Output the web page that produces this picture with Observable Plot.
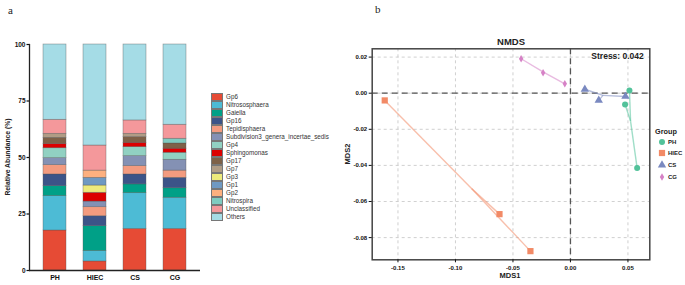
<!DOCTYPE html>
<html><head><meta charset="utf-8">
<script src="https://cdn.jsdelivr.net/npm/d3@7"></script>
<script src="https://cdn.jsdelivr.net/npm/@observablehq/plot@0.6"></script>
<style>
body{margin:0;background:#fff;font-family:"Liberation Sans",Arial,sans-serif;}
#wrap{position:relative;width:685px;height:285px;overflow:hidden;background:#fff;}
.abs{position:absolute;white-space:nowrap;}
</style></head><body><div id="wrap"></div>
<script>
// ---------- data: panel a ----------
const samples = ["PH", "HIEC", "CS", "CG"];
const genera = ["Gp6", "Nitrososphaera", "Gaiella", "Gp16", "Tepidisphaera",
  "Subdivision3_genera_incertae_sedis", "Gp4", "Sphingomonas", "Gp17", "Gp7",
  "Gp3", "Gp1", "Gp2", "Nitrospira", "Unclassified", "Others"];
const generaColors = ["#E64B35", "#4DBBD5", "#00A087", "#3C5488", "#F39B7F",
  "#8491B4", "#91D1C2", "#DC0000", "#7E6148", "#B09C85",
  "#EDEA7C", "#6F99C2", "#FDB07F", "#7FCBC0", "#F4989B", "#A5DCE6"];
const abundPH   = [17.7, 15.2, 4.4, 5.2, 4.1, 3.1, 4.4, 1.9, 2.7, 1.8, 0, 0, 0, 0, 6.2, 33.3];
const abundHIEC = [4.0, 4.6, 11.0, 4.4, 4.0, 2.5, 0, 3.9, 0, 0, 3.2, 3.4, 3.2, 0, 11.1, 44.7];
const abundCS   = [18.4, 15.8, 3.9, 4.4, 3.7, 4.4, 4.0, 1.9, 2.5, 1.5, 0, 0, 0, 0, 5.9, 33.6];
const abundCG   = [18.4, 13.8, 4.2, 4.6, 3.2, 4.8, 3.1, 1.8, 2.3, 0, 0, 0, 0, 2.1, 6.2, 35.5];
const yTicksA = [0, 25, 50, 75, 100];

// ---------- data: panel b ----------
const groups = ["PH", "HIEC", "CS", "CG"];
const groupColors = ["#52C29A", "#F28A66", "#7A89C0", "#D682C6"];
const groupSymbols = ["circle", "square", "triangle", "diamond"];
const groupR = [3.0, 3.5, 3.1, 2.3];
const mdsGroup = ["PH", "PH", "PH", "HIEC", "HIEC", "HIEC", "CS", "CS", "CS", "CG", "CG", "CG"];
const mds1 = [0.0513, 0.0475, 0.0580, -0.1615, -0.0617, -0.0348, 0.0125, 0.0246, 0.0478, -0.0429, -0.0238, -0.0049];
const mds2 = [0.0015, -0.0063, -0.0415, -0.0040, -0.0670, -0.0875, 0.0022, -0.0040, -0.0018, 0.0191, 0.0113, 0.0052];
const xTicksB = [-0.15, -0.10, -0.05, 0.00, 0.05];
const yTicksB = [0.02, 0.00, -0.02, -0.04, -0.06, -0.08];
const stressLabel = "Stress: 0.042";

const wrap = document.getElementById("wrap");
const FONT = "Liberation Sans, Arial, sans-serif";
function addText(txt, css) {
  const d = document.createElement("div");
  d.className = "abs"; d.textContent = txt;
  Object.assign(d.style, css);
  wrap.appendChild(d);
  return d;
}

// ---------- panel a ----------
const series = [abundPH, abundHIEC, abundCS, abundCG];
const barData = [];
samples.forEach((s, i) => genera.forEach((g, j) => {
  if (series[i][j] > 0) barData.push({sample: s, genus: g, value: series[i][j]});
}));

const left = Plot.plot({
  width: 200, height: 285,
  marginLeft: 29, marginRight: 0, marginTop: 44, marginBottom: 15,
  style: {fontFamily: FONT, background: "transparent", overflow: "visible", color: "#111"},
  x: {domain: samples, paddingInner: 0.415, paddingOuter: 0.293, label: null},
  y: {domain: [0, 100], label: null},
  color: {domain: genera, range: generaColors},
  marks: [
    Plot.barY(barData, Plot.stackY({order: genera}, {
      x: "sample", y: "value", fill: "genus", z: "genus",
      stroke: "#555", strokeWidth: 0.6, strokeOpacity: 0.6
    })),
    Plot.ruleY([0], {stroke: "#222", strokeWidth: 1.3}),
    Plot.frame({anchor: "left", stroke: "#222", strokeWidth: 1.3}),
    Plot.axisY(yTicksA, {tickSize: 2.5, tickPadding: 1.5, fontSize: 6.5, fontWeight: "bold", label: null, strokeWidth: 1.2}),
    Plot.axisX({tickSize: 0, tickPadding: 4.5, fontSize: 7, fontWeight: "bold", label: null})
  ]
});
left.style.position = "absolute"; left.style.left = "0px"; left.style.top = "0px";
wrap.appendChild(left);

addText("a", {left: "8px", top: "4px", fontFamily: "Liberation Serif, DejaVu Serif, serif", fontSize: "11px", color: "#222"});
addText("Relative Abundance (%)", {
  left: "7px", top: "157px", fontSize: "6.8px", fontWeight: "bold", color: "#222",
  transform: "translate(-50%,-50%) rotate(-90deg)", transformOrigin: "center"
});

// legend a
genera.forEach((g, i) => {
  const top = 92.7 + i * 8.04;
  const sw = document.createElement("div");
  sw.className = "abs";
  Object.assign(sw.style, {left: "210.7px", top: top + "px", width: "12.6px", height: "8.04px",
    background: generaColors[i], boxSizing: "border-box", border: "0.6px solid #777"});
  wrap.appendChild(sw);
  addText(g, {left: "226px", top: (top + 4.02) + "px", transform: "translateY(-50%)",
    fontSize: "6.3px", color: "#333", lineHeight: "1"});
});

// ---------- panel b ----------
const points = mds1.map((x, i) => ({group: mdsGroup[i], x, y: mds2[i]}));
const cent = d3.rollup(points, v => ({x: d3.mean(v, d => d.x), y: d3.mean(v, d => d.y)}), d => d.group);
const links = points.map(p => ({group: p.group, x1: cent.get(p.group).x, y1: cent.get(p.group).y, x2: p.x, y2: p.y}));
const rOf = new Map(groups.map((g, i) => [g, groupR[i]]));
const fmt = d => (Math.abs(d) < 1e-9 ? 0 : d).toFixed(2);

const right = Plot.plot({
  width: 355, height: 285,
  marginLeft: 41.7, marginRight: 35.7, marginTop: 48.3, marginBottom: 25.7,
  style: {fontFamily: FONT, background: "transparent", overflow: "visible", color: "#111"},
  x: {domain: [-0.1724, 0.069], label: null},
  y: {domain: [-0.0923, 0.0246], label: null},
  color: {domain: groups, range: groupColors},
  symbol: {domain: groups, range: groupSymbols},
  r: {type: "identity"},
  marks: [
    Plot.gridX(xTicksB, {stroke: "#bbb", strokeOpacity: 1, strokeDasharray: "3,3", strokeWidth: 0.7}),
    Plot.gridY(yTicksB, {stroke: "#bbb", strokeOpacity: 1, strokeDasharray: "3,3", strokeWidth: 0.7}),
    Plot.ruleX([0], {stroke: "#555", strokeDasharray: "6,4", strokeWidth: 1.3}),
    Plot.ruleY([0], {stroke: "#555", strokeDasharray: "6,4", strokeWidth: 1.3}),
    Plot.link(links, {x1: "x1", y1: "y1", x2: "x2", y2: "y2", stroke: "group", strokeOpacity: 0.55, strokeWidth: 1.4}),
    Plot.dot(points, {x: "x", y: "y", symbol: "group", fill: "group", r: d => rOf.get(d.group), stroke: "none"}),
    Plot.frame({stroke: "#444", strokeWidth: 1.5}),
    Plot.axisX(xTicksB, {tickSize: 3, tickPadding: 3, fontSize: 6, fontWeight: "bold", tickFormat: fmt, label: null}),
    Plot.axisY(yTicksB, {tickSize: 3, tickPadding: 2, fontSize: 6, fontWeight: "bold", tickFormat: fmt, label: null}),
    Plot.text(["NMDS"], {frameAnchor: "top", lineAnchor: "middle", dy: -7, fontSize: 9.5, fontWeight: "bold", fill: "#222"}),
    Plot.text([stressLabel], {frameAnchor: "top-right", lineAnchor: "middle", dx: -6, dy: 7.5, fontSize: 8.5, fontWeight: "bold", fill: "#222"})
  ]
});
right.style.position = "absolute"; right.style.left = "330px"; right.style.top = "0px";
wrap.appendChild(right);

addText("b", {left: "375px", top: "3px", fontFamily: "Liberation Serif, DejaVu Serif, serif", fontSize: "11px", color: "#222"});
addText("MDS1", {left: "510px", top: "275px", transform: "translate(-50%,-50%)", fontSize: "7.5px", fontWeight: "bold", color: "#222"});
addText("MDS2", {left: "347px", top: "154px", transform: "translate(-50%,-50%) rotate(-90deg)", fontSize: "7.5px", fontWeight: "bold", color: "#222"});

// legend b
addText("Group", {left: "655px", top: "131px", transform: "translateY(-50%)", fontSize: "7.3px", fontWeight: "bold", color: "#222"});
const symPaths = {circle: d3.symbolCircle, square: d3.symbolSquare, triangle: d3.symbolTriangle, diamond: d3.symbolDiamond};
groups.forEach((g, i) => {
  const cy = 141.7 + i * 11.6;
  const svg = d3.select(wrap).append("svg").attr("class", "abs")
    .style("left", (661.7 - 6) + "px").style("top", (cy - 6) + "px")
    .attr("width", 12).attr("height", 12);
  const r = groupR[i];
  svg.append("path").attr("transform", "translate(6,6)")
    .attr("d", d3.symbol(symPaths[groupSymbols[i]], Math.PI * r * r)())
    .attr("fill", groupColors[i]);
  addText(g, {left: "668px", top: cy + "px", transform: "translateY(-50%)", fontSize: "6px", fontWeight: "bold", color: "#222"});
});
</script></body></html>
